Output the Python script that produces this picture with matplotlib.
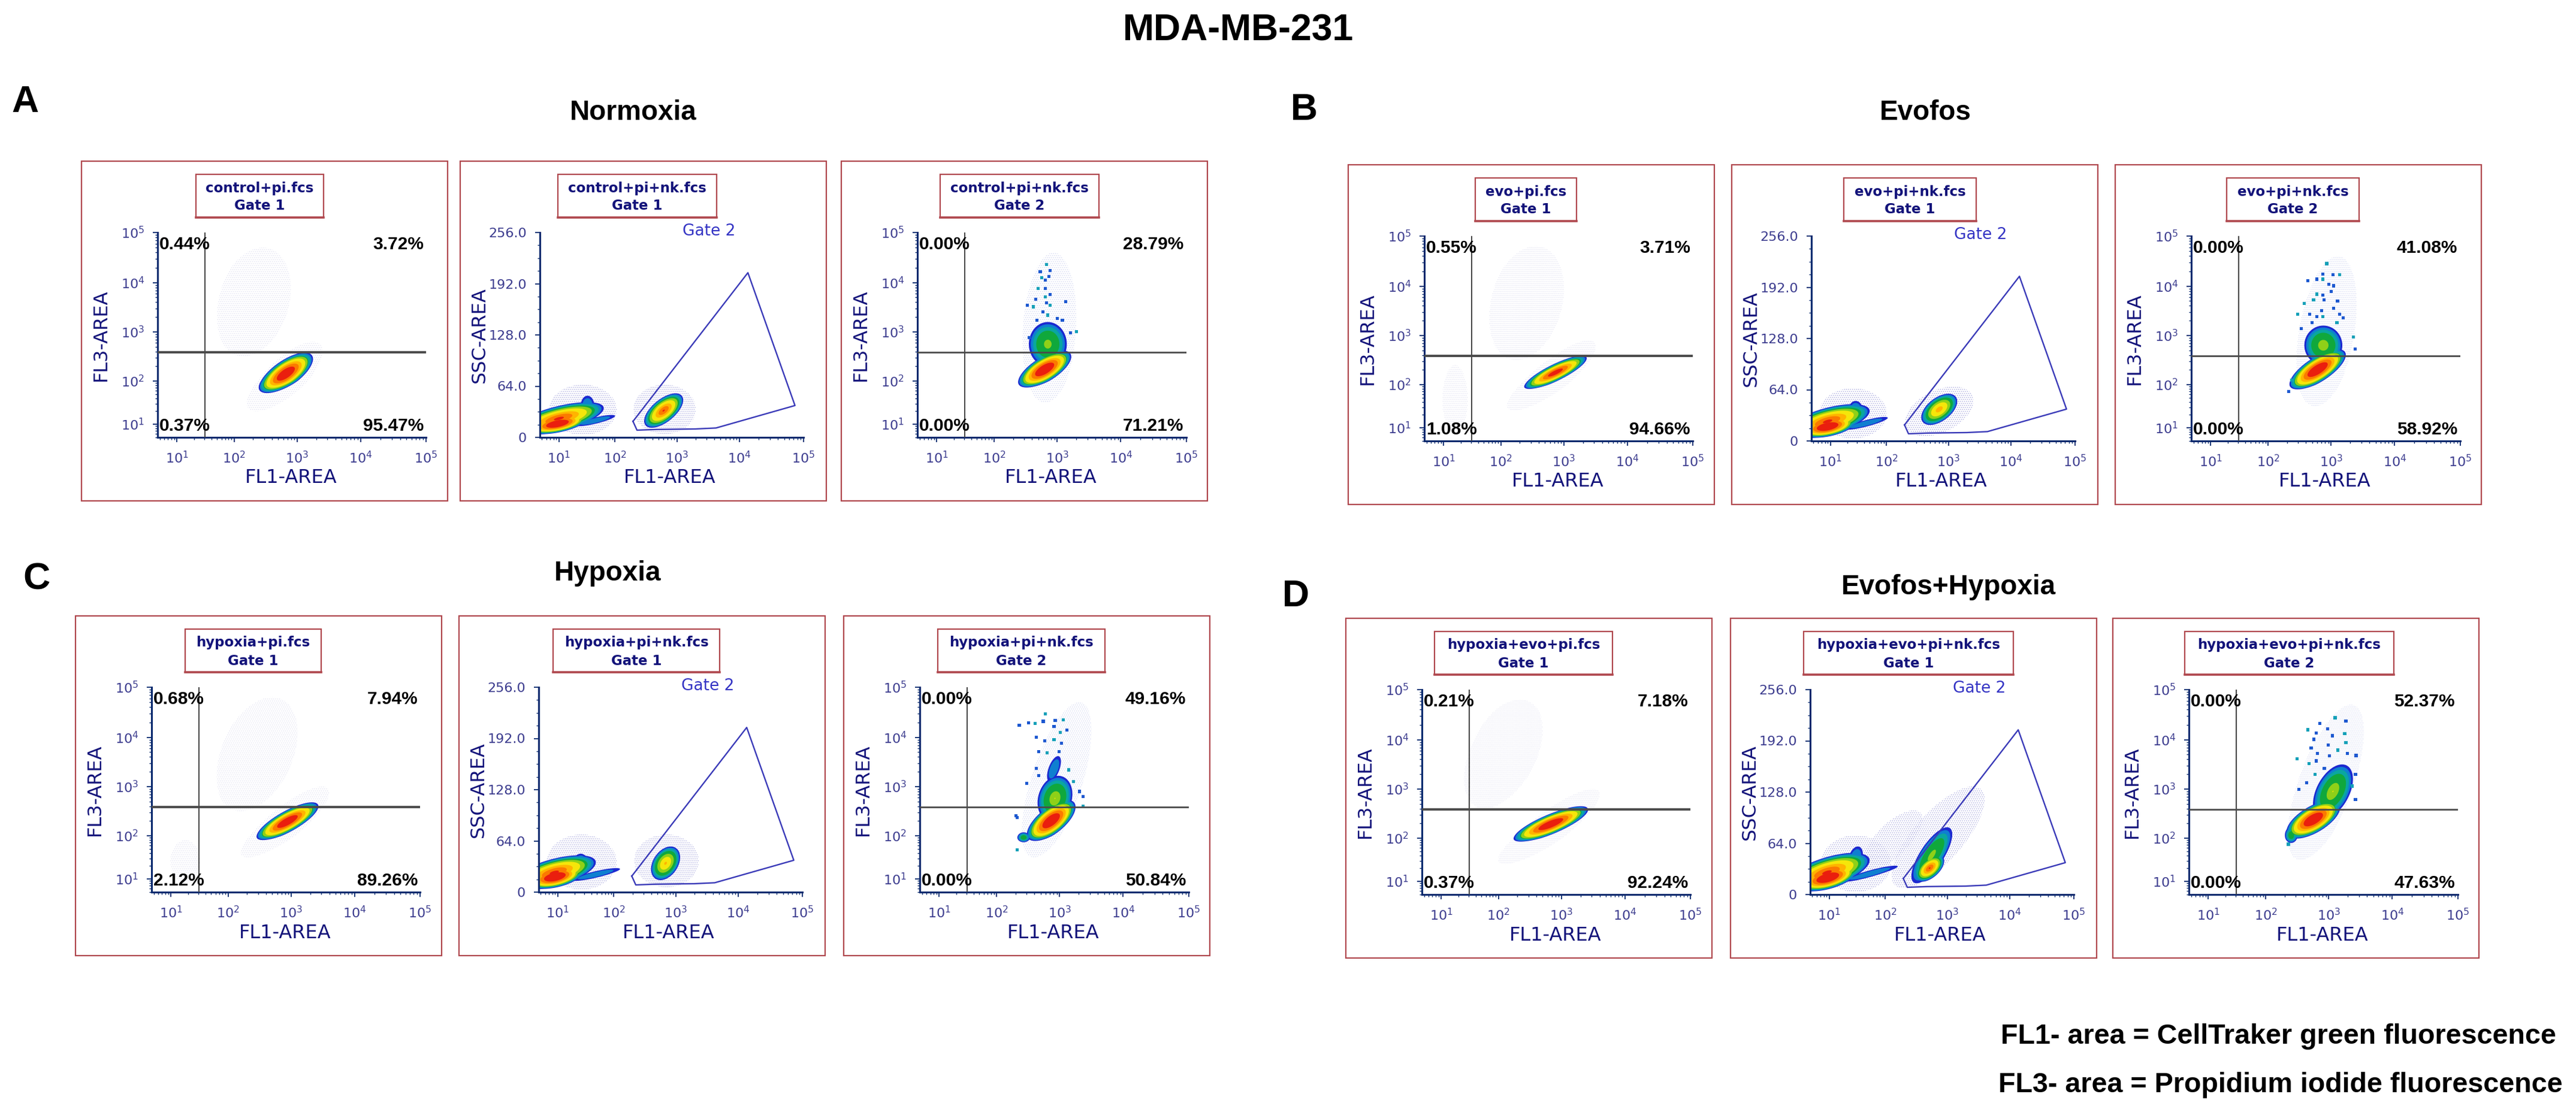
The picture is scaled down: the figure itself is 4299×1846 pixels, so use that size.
#!/usr/bin/env python3
"""Flow cytometry figure, MDA-MB-231: four conditions with three dot plots each."""
import matplotlib
matplotlib.use("Agg")
import matplotlib.pyplot as plt
import numpy as np
from matplotlib.patches import Rectangle

# =============================================================
#  DATA
# =============================================================
CONDITIONS = ["Normoxia", "Evofos", "Hypoxia", "Evofos+Hypoxia"]
LETTERS = ["A", "B", "C", "D"]

FILES = [
    ["control+pi.fcs", "control+pi+nk.fcs", "control+pi+nk.fcs"],
    ["evo+pi.fcs", "evo+pi+nk.fcs", "evo+pi+nk.fcs"],
    ["hypoxia+pi.fcs", "hypoxia+pi+nk.fcs", "hypoxia+pi+nk.fcs"],
    ["hypoxia+evo+pi.fcs", "hypoxia+evo+pi+nk.fcs", "hypoxia+evo+pi+nk.fcs"],
]
GATES = ["Gate 1", "Gate 1", "Gate 2"]

# quadrants: upper left, upper right, lower left, lower right
QUAD_FIRST = [
    ["0.44%", "3.72%", "0.37%", "95.47%"],
    ["0.55%", "3.71%", "1.08%", "94.66%"],
    ["0.68%", "7.94%", "2.12%", "89.26%"],
    ["0.21%", "7.18%", "0.37%", "92.24%"],
]
QUAD_LAST = [
    ["0.00%", "28.79%", "0.00%", "71.21%"],
    ["0.00%", "41.08%", "0.00%", "58.92%"],
    ["0.00%", "49.16%", "0.00%", "50.84%"],
    ["0.00%", "52.37%", "0.00%", "47.63%"],
]

QUAD_FL1 = 30.6
QUAD_FL3 = 383.0

GATE_FL1 = [195, 226, 468, 1972, 4230, 73600, 13650, 195]
GATE_SSC = [20, 9, 9.9, 10.5, 11.7, 39.8, 205.7, 20]

LOG_TICKS = [1e1, 1e2, 1e3, 1e4, 1e5]
LOG_LABELS = ["$10^{1}$", "$10^{2}$", "$10^{3}$", "$10^{4}$", "$10^{5}$"]
SSC_TICKS = [0, 64, 128, 192, 256]
SSC_LABELS = ["0", "64.0", "128.0", "192.0", "256.0"]

# populations: (x0, y0) and (x1, y1) are opposite corners of the cloud, w its
# half width at the middle in FL1 decades, heat how far the colours go to red.
# x is log10(FL1); y is log10(FL3) in the first and last plot, SSC in the middle.
CLOUDS_FIRST = [
    [(2.39, 1.72, 3.25, 2.58, 0.31, 1.2)],
    [(2.37, 1.90, 3.36, 2.59, 0.27, 1.05)],
    [(2.45, 1.90, 3.43, 2.68, 0.30, 1.2)],
    [(2.24, 1.92, 3.42, 2.65, 0.35, 1.2)],
]
CLOUDS_MIDDLE = [
    [(0.20, 3, 1.80, 44, 0.62, 0.9), (0.45, 4, 1.50, 30, 0.45, 1.3),
     (1.30, 14, 2.00, 28, 0.20, 0.1), (1.40, 28, 1.62, 52, 0.12, 0.1),
     (2.47, 12, 3.10, 55, 0.25, 0.85)],
    [(0.20, 3, 1.70, 46, 0.60, 0.9), (0.45, 4, 1.45, 32, 0.45, 1.3),
     (1.25, 14, 2.02, 30, 0.20, 0.1), (1.35, 30, 1.55, 50, 0.12, 0.1),
     (2.56, 20, 3.14, 59, 0.25, 0.62)],
    [(0.20, 3, 1.68, 46, 0.60, 0.9), (0.45, 4, 1.45, 34, 0.45, 1.3),
     (1.25, 14, 2.10, 30, 0.22, 0.1), (1.30, 30, 1.52, 48, 0.12, 0.1),
     (2.60, 15, 3.07, 57, 0.22, 0.55)],
    [(0.20, 3, 1.72, 52, 0.60, 0.9), (0.45, 4, 1.50, 38, 0.45, 1.3),
     (1.25, 16, 2.20, 36, 0.20, 0.1), (1.35, 34, 1.60, 60, 0.12, 0.1),
     (2.42, 14, 3.08, 84, 0.22, 0.3), (2.48, 16, 2.95, 50, 0.20, 0.85)],
]
CLOUDS_LAST = [
    [(2.38, 1.85, 3.22, 2.62, 0.31, 1.25), (2.60, 2.30, 3.10, 3.20, 0.30, 0.30)],
    [(2.34, 1.89, 3.23, 2.72, 0.31, 1.25), (2.60, 2.40, 3.15, 3.20, 0.30, 0.33)],
    [(2.48, 1.88, 3.25, 2.73, 0.29, 1.25), (2.33, 1.85, 2.53, 2.07, 0.10, 0.2),
     (2.65, 2.30, 3.20, 3.22, 0.27, 0.35), (2.80, 3.10, 3.02, 3.62, 0.09, 0.1)],
    [(2.33, 1.99, 3.18, 2.77, 0.33, 1.25), (2.75, 2.40, 3.38, 3.50, 0.28, 0.35),
     (2.31, 1.89, 2.50, 2.23, 0.10, 0.2)],
]

# faint background events: same corners and half width, no colour ramp
HAZE_FIRST = [
    [(1.70, 2.5, 2.90, 4.7, 0.58), (2.2, 1.3, 3.4, 2.8, 0.40)],
    [(1.80, 2.5, 3.00, 4.8, 0.58), (2.1, 1.4, 3.5, 2.9, 0.38), (1.0, 0.9, 1.4, 2.4, 0.22)],
    [(1.80, 2.5, 3.10, 4.8, 0.60), (2.2, 1.5, 3.6, 3.0, 0.38), (1.0, 0.9, 1.5, 1.9, 0.26)],
    [(1.40, 2.6, 2.70, 4.8, 0.58), (2.0, 1.4, 3.6, 3.0, 0.40)],
]
HAZE_MIDDLE = [
    [(1.0, 3, 1.85, 66, 0.60), (2.30, 4, 3.30, 66, 0.50)],
    [(1.0, 3, 1.80, 66, 0.60), (2.30, 6, 3.40, 68, 0.50)],
    [(1.0, 3, 1.85, 72, 0.62), (2.35, 6, 3.35, 72, 0.52)],
    [(1.0, 3, 1.95, 74, 0.62), (2.10, 8, 3.60, 135, 0.50), (1.60, 30, 2.60, 105, 0.35)],
]
HAZE_LAST = [
    [(2.45, 1.5, 3.30, 4.6, 0.42)],
    [(2.45, 1.5, 3.40, 4.6, 0.44)],
    [(2.40, 1.5, 3.50, 4.7, 0.42)],
    [(2.35, 1.5, 3.55, 4.7, 0.45)],
]

# isolated events above the main cloud of the last plot, log10(FL1), log10(FL3)
TAIL_FL1 = [
    [2.83, 2.89, 2.73, 2.75, 2.81, 2.87, 2.70, 2.81, 2.89, 2.81, 3.13, 2.66,
     2.62, 2.53, 2.83, 2.89, 2.77, 2.68, 2.85, 3.00, 3.08, 3.30, 3.21, 2.56],
    [2.93, 2.87, 3.03, 3.13, 2.63, 2.77, 2.87, 2.96, 3.04, 2.77, 2.87, 3.00,
     2.72, 2.89, 3.10, 2.57, 3.04, 2.85, 2.47, 2.66, 3.13, 2.87, 2.77, 3.19,
     3.09, 2.70, 2.53, 3.35, 3.38, 2.33, 2.38],
    [2.77, 2.36, 2.51, 2.61, 2.74, 2.93, 3.06, 2.91, 3.11, 3.01, 2.63, 2.76,
     2.91, 3.03, 2.67, 2.80, 2.99, 2.63, 3.14, 2.67, 2.48, 3.22, 3.31, 3.37,
     3.37, 2.33, 2.31, 2.33],
    [3.10, 3.27, 2.86, 2.67, 2.98, 3.06, 3.25, 2.80, 2.76, 3.27, 2.99, 2.72,
     3.14, 3.29, 3.43, 2.50, 2.82, 3.01, 2.69, 2.80, 2.93, 2.78, 3.42, 2.65,
     3.37, 2.53, 3.42, 2.36],
]
TAIL_FL3 = [
    [4.36, 4.24, 4.22, 4.10, 4.05, 4.12, 3.88, 3.88, 3.76, 3.71, 3.61, 3.66,
     3.51, 3.54, 3.59, 3.54, 3.41, 3.24, 3.34, 3.27, 3.24, 3.00, 2.98, 2.88],
    [4.45, 4.24, 4.23, 4.23, 4.11, 4.14, 4.14, 4.04, 4.01, 3.84, 3.82, 3.89,
     3.72, 3.72, 3.70, 3.65, 3.55, 3.50, 3.43, 3.43, 3.43, 3.38, 3.38, 3.36,
     3.26, 3.26, 3.14, 2.97, 2.72, 1.84, 2.09],
    [4.47, 4.24, 4.29, 4.28, 4.32, 4.34, 4.35, 4.22, 4.15, 4.10, 4.00, 3.93,
     3.95, 3.88, 3.71, 3.69, 3.71, 3.37, 3.34, 3.22, 3.07, 3.10, 2.90, 2.80,
     2.60, 2.37, 2.41, 1.67],
    [4.44, 4.37, 4.33, 4.20, 4.22, 4.08, 4.12, 4.13, 4.01, 3.94, 3.89, 3.83,
     3.79, 3.72, 3.68, 3.61, 3.72, 3.67, 3.52, 3.57, 3.42, 3.30, 3.30, 3.13,
     3.06, 2.99, 2.79, 1.86],
]

NOTES = ["FL1- area = CellTraker green fluorescence",
         "FL3- area = Propidium iodide fluorescence"]

# =============================================================
#  LAYOUT, in pixels of the 4299x1846 page
# =============================================================
PANEL_W, PANEL_H = 611, 567
PANEL_X = [[136, 768, 1404], [2250, 2890, 3530], [126, 766, 1408], [2246, 2888, 3526]]
PANEL_Y = [269, 275, 1028, 1032]
BOX_X = [
    [(191, 404), (163, 428), (165, 430)],
    [(212, 381), (187, 408), (186, 407)],
    [(183, 410), (157, 435), (157, 436)],
    [(148, 445), (122, 472), (120, 469)],
]
AX_LEFT = [127, 133, 127]
AX_RIGHT = [575, 573, 576]
AX_TOP, AX_BOTTOM = 119, 461

LETTER_POS = [(42, 187), (2176, 200), (61, 984), (2162, 1012)]
COND_POS = [(1057, 200), (3213, 200), (1014, 969), (3252, 992)]

NAVY = "#13137a"
SPINE = "#0b2a6e"
TICK_TXT = "#3d3d8f"
FRAME = "#b0484e"
GATE_BLUE = "#3a3ab8"
ARIAL = "Liberation Sans"

RAMP = ["#1c28d0", "#0f7fd0", "#0aa6a0", "#10a83c", "#8fd018",
        "#f5e60a", "#ffb400", "#fb7a00", "#ea1e0e"]
RAMP_SIZE = [1.0, 0.95, 0.89, 0.81, 0.76, 0.66, 0.50, 0.37, 0.20]
px = 0.72  # points per pixel at dpi 100

plt.rcParams["mathtext.default"] = "regular"
plt.rcParams["font.family"] = "DejaVu Sans"
plt.rcParams["hatch.linewidth"] = 0.6


def make_scale(decades, fracs):
    """Cytometer log axis: decades are not quite evenly spaced on screen."""
    def fwd(v):
        return np.interp(np.log10(np.clip(v, 1e-3, None)), decades, fracs)

    def inv(f):
        return 10.0 ** np.interp(f, fracs, decades)
    return fwd, inv


X_SCALE = make_scale([0.662, 1, 2, 3, 4, 5], [0, 0.072, 0.285, 0.52, 0.756, 1])
Y_SCALE = make_scale([0.695, 1, 2, 3, 4, 5], [0, 0.0643, 0.275, 0.515, 0.755, 1])
MINOR = [m * 10 ** d for d in range(0, 5) for m in range(2, 10)
         if 10 ** 0.67 < m * 10 ** d < 1e5]


def outline(cloud, size=1.0, log_y=True):
    """Slanted ellipse inside the corners of a cloud, shrunk by size."""
    x0, y0, x1, y1, w = cloud[:5]
    t = np.linspace(0, 2 * np.pi, 90)
    slant = np.sqrt(max(((x1 - x0) / 2) ** 2 - w ** 2, 0))
    x = (x0 + x1) / 2 + size * (slant * np.cos(t) + w * np.sin(t))
    y = (y0 + y1) / 2 + size * (y1 - y0) / 2 * np.cos(t)
    return 10 ** x, (10 ** y if log_y else y)


def draw_clouds(ax, haze, haze_col, clouds, log_y=True):
    for h in haze:
        ax.fill(*outline(h, log_y=log_y), facecolor="none", edgecolor=haze_col,
                hatch=".....", lw=0, zorder=1)
    for i, (col, s) in enumerate(zip(RAMP, RAMP_SIZE)):
        for c in clouds:
            heat = c[5]
            if heat < 0.2 and i >= 2:
                continue  # thin blue fringes only
            if s >= 0.81:
                size = s - (1 - s) * (1 / heat - 1) * 0.45
            else:
                size = 1 - (1 - s) / heat
            if size > 0.02:
                ax.fill(*outline(c, min(size, 1.0), log_y), color=col, lw=0, zorder=2)


def style_axes(ax, log_y=True):
    ax.set_xscale("function", functions=X_SCALE)
    ax.set_xlim(10 ** 0.662, 1e5)
    ax.set_xticks(LOG_TICKS)
    ax.set_xticklabels(LOG_LABELS)
    ax.set_xticks(MINOR, minor=True)
    ax.set_xticklabels([], minor=True)
    if log_y:
        ax.set_yscale("function", functions=Y_SCALE)
        ax.set_ylim(10 ** 0.695, 1e5)
        ax.set_yticks(LOG_TICKS)
        ax.set_yticklabels(LOG_LABELS)
        ax.set_yticks(MINOR, minor=True)
        ax.set_yticklabels([], minor=True)
    else:
        ax.set_ylim(0, 256)
        ax.set_yticks(SSC_TICKS)
        ax.set_yticklabels(SSC_LABELS)
        ax.set_yticks(np.arange(0, 257, 16), minor=True)
    ax.patch.set_visible(False)
    for side in ("top", "right"):
        ax.spines[side].set_visible(False)
    for side in ("left", "bottom"):
        ax.spines[side].set_color(SPINE)
        ax.spines[side].set_linewidth(2.2)
    ax.tick_params(which="major", length=8 * px, width=1.3, color=SPINE,
                   labelsize=16, labelcolor=TICK_TXT, pad=14 * px)
    ax.tick_params(which="minor", length=4 * px, width=1.0, color=SPINE)


fig = plt.figure(figsize=(42.99, 18.46), dpi=100, facecolor="white")
W, H = 4299.0, 1846.0

# page overlay in pixel coordinates for frames and free text
page = fig.add_axes([0, 0, 1, 1], zorder=5)
page.set_xlim(0, W)
page.set_ylim(H, 0)
page.axis("off")

page.text(2066, 68, "MDA-MB-231", family=ARIAL, weight="bold", fontsize=45,
          ha="center", va="baseline")
for lab, pos in zip(LETTERS, LETTER_POS):
    page.text(pos[0], pos[1], lab, family=ARIAL, weight="bold", fontsize=45,
              ha="center", va="baseline")
for name, pos in zip(CONDITIONS, COND_POS):
    page.text(pos[0], pos[1], name, family=ARIAL, weight="bold", fontsize=33,
              ha="center", va="baseline")
page.text(4266, 1742, NOTES[0], family=ARIAL, weight="bold", fontsize=33.6,
          ha="right", va="baseline")
page.text(4277, 1823, NOTES[1], family=ARIAL, weight="bold", fontsize=33.6,
          ha="right", va="baseline")

for r in range(4):
    for k in range(3):
        x0, y0 = PANEL_X[r][k], PANEL_Y[r]
        page.add_patch(Rectangle((x0, y0), PANEL_W, PANEL_H, fill=False,
                                 ec=FRAME, lw=1.6))
        bx0, bx1 = BOX_X[r][k]
        page.add_patch(Rectangle((x0 + bx0, y0 + 22), bx1 - bx0, 72, fill=False,
                                 ec=FRAME, lw=1.6))
        page.plot([x0 + bx0, x0 + bx1], [y0 + 94, y0 + 94], color=FRAME, lw=2.6)
        page.text(x0 + (bx0 + bx1) / 2, y0 + 45, FILES[r][k], color=NAVY,
                  weight="bold", fontsize=16.5, ha="center", va="center")
        page.text(x0 + (bx0 + bx1) / 2, y0 + 75, GATES[k], color=NAVY,
                  weight="bold", fontsize=16.5, ha="center", va="center")

        left, right = x0 + AX_LEFT[k], x0 + AX_RIGHT[k]
        top, bottom = y0 + AX_TOP, y0 + AX_BOTTOM
        ax = fig.add_axes([left / W, 1 - bottom / H, (right - left) / W,
                           (bottom - top) / H], zorder=2)

        if k == 1:
            draw_clouds(ax, HAZE_MIDDLE[r], "#a9a9de", CLOUDS_MIDDLE[r], log_y=False)
            ax.plot(GATE_FL1, GATE_SSC, color=GATE_BLUE, lw=1.7, zorder=3)
            style_axes(ax, log_y=False)
            page.text(x0 + 415, y0 + 117, "Gate 2", color="#3434c4", fontsize=19,
                      ha="center", va="center")
        else:
            last = k == 2
            haze = HAZE_LAST[r] if last else HAZE_FIRST[r]
            clouds = CLOUDS_LAST[r] if last else CLOUDS_FIRST[r]
            draw_clouds(ax, haze, "#d4d8f2" if last else "#e2e2f2", clouds)
            if last:
                tx, ty = 10.0 ** np.array(TAIL_FL1[r]), 10.0 ** np.array(TAIL_FL3[r])
                cols = ["#12a0b8" if i % 3 == 0 else "#1c58d0" for i in range(len(tx))]
                ax.scatter(tx, ty, s=14, marker="s", c=cols, linewidths=0, zorder=2)
            ax.axvline(QUAD_FL1, color="#4a4a4a", lw=1.5, zorder=4)
            ax.axhline(QUAD_FL3, color="#4a4a4a", lw=2.0 if last else 2.8, zorder=4)
            style_axes(ax)
            quad = QUAD_LAST[r] if last else QUAD_FIRST[r]
            for txt, qx, qy, ha in zip(quad, (130, 571, 130, 571), (139, 139, 442, 442),
                                       ("left", "right", "left", "right")):
                page.text(x0 + qx, y0 + qy, txt, family=ARIAL, weight="bold",
                          fontsize=21.5, ha=ha, va="center")

        page.text(x0 + 32, y0 + 290, "SSC-AREA" if k == 1 else "FL3-AREA", color=NAVY,
                  fontsize=23, rotation=90, ha="center", va="center")
        page.text(x0 + 350, y0 + 529, "FL1-AREA", color=NAVY,
                  fontsize=23, ha="center", va="center")

fig.savefig("out.png", dpi=100, facecolor="white")
plt.close(fig)
